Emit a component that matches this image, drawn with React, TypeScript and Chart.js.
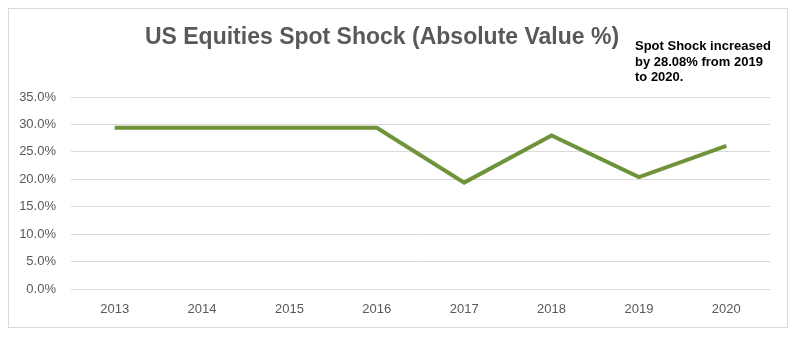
import React, { useEffect, useRef } from "react";
import { Chart, registerables } from "chart.js";

Chart.register(...registerables);

const years = ["2013", "2014", "2015", "2016", "2017", "2018", "2019", "2020"];
const spotShock = [29.4, 29.4, 29.4, 29.4, 19.4, 28.0, 20.4, 26.1];
const yTicks = [0, 5, 10, 15, 20, 25, 30, 35];
const titleText = "US Equities Spot Shock (Absolute Value %)";
const noteLines = ["Spot Shock increased", "by 28.08% from 2019", "to 2020."];

const textPlugin = {
  id: "customText",
  afterDraw(chart: any) {
    const ctx = chart.ctx;
    ctx.save();
    ctx.fillStyle = "#595959";
    ctx.font = "bold 23px 'Liberation Sans', Arial, sans-serif";
    ctx.textAlign = "center";
    ctx.textBaseline = "alphabetic";
    ctx.fillText(titleText, 373, 35);
    ctx.fillStyle = "#000000";
    ctx.font = "bold 13px 'Liberation Sans', Arial, sans-serif";
    ctx.textAlign = "left";
    noteLines.forEach((l, i) => ctx.fillText(l, 626, 41 + i * 15.5));
    ctx.restore();
  },
};

export default function App() {
  const ref = useRef<HTMLCanvasElement>(null);
  useEffect(() => {
    if (!ref.current) return;
    const chart = new Chart(ref.current, {
      type: "line",
      data: {
        labels: years,
        datasets: [
          {
            data: spotShock,
            borderColor: "#70923B",
            backgroundColor: "#70923B",
            borderWidth: 4,
            pointRadius: 0,
            tension: 0,
            fill: false,
          },
        ],
      },
      plugins: [textPlugin],
      options: {
        animation: false,
        responsive: false,
        maintainAspectRatio: false,
        layout: { padding: { top: 88, right: 17, left: 0, bottom: 0 } },
        plugins: { legend: { display: false }, title: { display: false }, tooltip: { enabled: false } },
        scales: {
          x: {
            offset: true,
            grid: { display: false, drawTicks: false },
            border: { display: false },
            ticks: {
              color: "#595959",
              font: { family: "'Liberation Sans', Arial, sans-serif", size: 13 },
              padding: 13,
              maxRotation: 0,
            },
            afterFit: (s: any) => {
              s.height = 38;
            },
          },
          y: {
            min: 0,
            max: 35,
            afterBuildTicks: (s: any) => {
              s.ticks = yTicks.map((v) => ({ value: v }));
            },
            grid: { color: "#d9d9d9", lineWidth: 1, drawTicks: false },
            border: { display: false },
            ticks: {
              color: "#595959",
              font: { family: "'Liberation Sans', Arial, sans-serif", size: 13 },
              padding: 15,
              callback: (v: any) => Number(v).toFixed(1) + "%",
            },
            afterFit: (s: any) => {
              s.width = 62;
            },
          },
        },
      },
    });
    return () => chart.destroy();
  }, []);
  return (
    <div
      style={{
        width: 780,
        height: 320,
        border: "1px solid #d9d9d9",
        boxSizing: "border-box",
        background: "#fff",
      }}
    >
      <canvas ref={ref} width={778} height={318} style={{ display: "block" }} />
    </div>
  );
}
